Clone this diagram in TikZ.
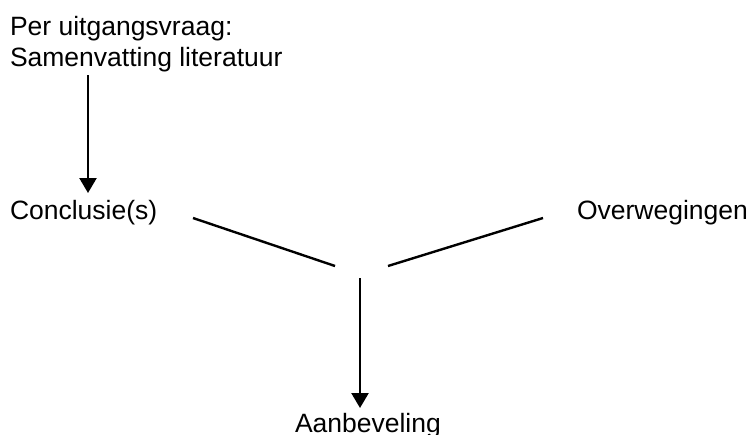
\documentclass[tikz,border=0pt]{standalone}
\usepackage{fontspec}
\setmainfont{Liberation Sans}
\usetikzlibrary{arrows.meta}
\begin{document}
\begin{tikzpicture}[x=1pt,y=-1pt,
  txt/.style={inner sep=0pt, outer sep=0pt, anchor=base west,
    font=\fontsize{26.5}{31}\selectfont},
  conn/.style={line width=2.4pt},
  flow/.style={conn,-{Triangle[width=17pt,length=15pt]}}]
\useasboundingbox (0,0) rectangle (752,434);

% text blocks
\node[txt] (ques) at (10,35) {Per uitgangsvraag:};
\node[txt] (lit)  at (10,66) {Samenvatting literatuur};
\node[txt] (conc) at (10,219) {Conclusie(s)};
\node[txt] (over) at (577,219) {Overwegingen};
\node[txt] (adv)  at (295,432) {Aanbeveling};

% connector end points
\coordinate (litout) at (88,75);
\coordinate (concin) at (88,193);
\coordinate (cl) at (193,218);
\coordinate (cr) at (335,266);
\coordinate (ol) at (388,266);
\coordinate (or) at (543,218);
\coordinate (advout) at (360,278);
\coordinate (advin) at (360,408);

% connectors
\draw[flow] (litout) -- (concin);
\draw[conn] (cl) -- (cr);
\draw[conn] (ol) -- (or);
\draw[flow] (advout) -- (advin);
\end{tikzpicture}
\end{document}
